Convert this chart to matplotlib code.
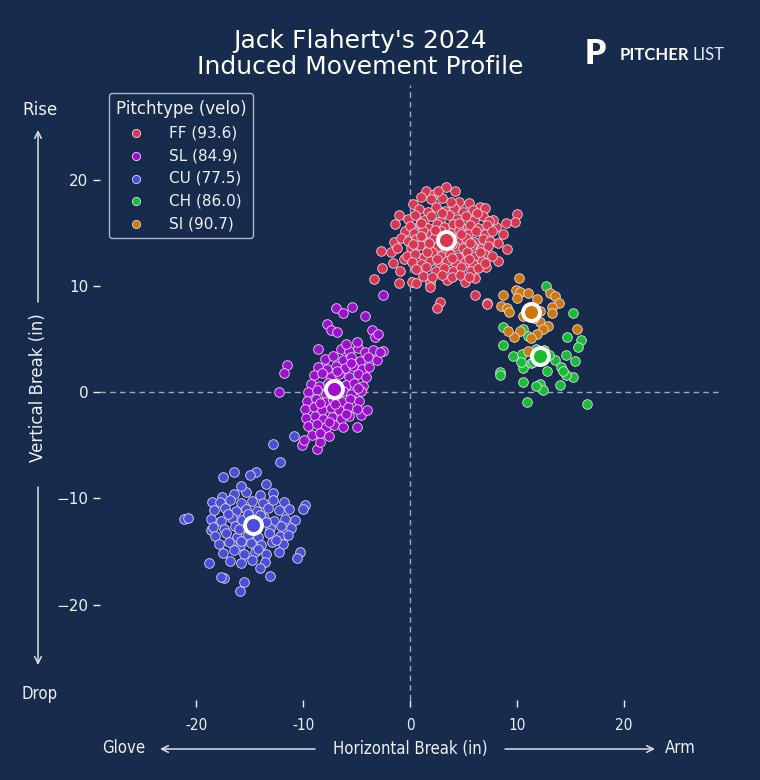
import numpy as np
import matplotlib
matplotlib.use("Agg")
import matplotlib.pyplot as plt

# colours
bg = "#172b4d"
txt = "#f0f0f0"

# pitch types, colours, mean velo
pitch_types = ["FF", "SL", "CU", "CH", "SI"]
pitch_colors = ["#d9384f", "#9c10d0", "#4a4fd9", "#16bf32", "#cc7a0c"]
pitch_velo = [93.6, 84.9, 77.5, 86.0, 90.7]

# mean movement (horizontal, vertical)
mean_h = [3.4, -7.1, -14.7, 12.2, 11.3]
mean_v = [14.4, 0.3, -12.5, 3.4, 7.6]

# individual pitches (horizontal break, vertical break)
ff_pts = [
    (3.4, 19.4), (1.5, 19.0), (2.2, 18.7), (3.0, 18.3), (0.3, 17.8), (4.6, 18.0), (5.5, 17.9),
    (6.5, 17.5), (7.0, 17.4), (10.0, 16.8), (9.8, 16.1), (9.0, 16.0), (8.7, 14.9), (9.1, 13.5),
    (7.1, 11.8), (-2.7, 13.3), (-2.6, 11.7), (-3.4, 10.7), (-1.0, 10.3), (0.2, 10.4), (0.6, 10.3),
    (1.9, 10.3), (1.9, 9.9), (2.8, 8.5), (2.5, 8.0), (6.1, 9.2), (7.2, 8.4), (6.1, 10.8),
    (5.1, 10.4), (3.5, 10.6), (-1.6, 12.2), (-1.8, 13.2), (-1.5, 14.2), (-1.0, 16.7), (-1.4, 15.9),
    (-0.5, 15.2), (-0.8, 14.6), (-1.2, 13.6), (-0.6, 12.6), (-0.9, 11.5), (8.2, 12.4), (8.0, 15.6),
    (7.8, 16.3), (1.0, 18.4), (2.6, 19.0), (4.2, 19.0),
    (0.8, 17.3), (1.7, 17.0), (2.4, 17.5), (3.3, 17.1), (4.1, 17.4), (5.0, 17.0), (5.9, 17.2),
    (3.8, 18.0), (2.0, 18.2),
    (-0.2, 16.4), (0.5, 16.7), (1.3, 16.3), (2.0, 16.6), (2.8, 16.2), (3.6, 16.7), (4.4, 16.4),
    (5.2, 16.6), (6.0, 16.3), (6.8, 16.6), (7.4, 16.2),
    (0.0, 15.7), (0.9, 15.9), (1.7, 15.5), (2.5, 15.9), (3.2, 15.6), (4.0, 15.9), (4.8, 15.6),
    (5.6, 15.8), (6.4, 15.5), (7.2, 15.8),
    (0.4, 15.0), (1.2, 15.2), (2.0, 14.9), (2.9, 15.2), (3.8, 15.0), (4.6, 15.3), (5.4, 14.9),
    (6.2, 15.2), (7.0, 14.9), (7.7, 15.2),
    (-0.2, 14.3), (0.6, 14.5), (1.4, 14.2), (2.2, 14.6), (4.4, 14.3), (5.2, 14.6), (6.0, 14.2),
    (6.8, 14.5), (7.5, 14.3), (8.2, 14.1),
    (0.1, 13.6), (0.9, 13.9), (1.8, 13.5), (2.6, 13.8), (3.4, 13.5), (4.2, 13.8), (5.0, 13.6),
    (5.8, 13.9), (6.6, 13.5), (7.3, 13.8),
    (-0.3, 12.9), (0.5, 13.1), (1.3, 12.8), (2.1, 13.2), (2.9, 12.9), (3.7, 13.1), (4.5, 12.8),
    (5.3, 13.2), (6.1, 12.9), (6.9, 13.1), (7.7, 12.9),
    (0.2, 12.3), (1.0, 12.1), (1.9, 12.4), (2.7, 12.2), (3.5, 12.4), (4.3, 12.1), (5.1, 12.3),
    (5.9, 12.1), (6.7, 12.4),
    (0.6, 11.6), (1.5, 11.8), (2.4, 11.5), (3.2, 11.7), (4.0, 11.5), (4.8, 11.8), (5.7, 11.5),
    (6.4, 11.7),
    (1.2, 11.0), (2.1, 10.9), (3.0, 11.1), (3.9, 10.9), (4.7, 11.1), (5.5, 10.9), (7.2, 8.3),
    (1.0, 16.0), (2.3, 15.3), (3.0, 14.2), (3.9, 14.0), (4.8, 14.9), (5.6, 14.1), (1.0, 14.8),
    (1.6, 13.2), (2.5, 12.6), (3.9, 12.7), (5.5, 12.6), (4.6, 16.0), (3.0, 16.9), (6.3, 16.9),
    (1.8, 14.1), (6.5, 13.2), (0.3, 14.0), (7.0, 12.2),
]

sl_pts = [
    (-2.5, 9.2), (-6.9, 8.0), (-5.4, 8.1), (-6.3, 7.5), (-4.2, 7.2), (-7.8, 6.5), (-7.4, 5.9),
    (-6.8, 5.7), (-3.6, 5.9), (-3.3, 5.2), (-2.5, 3.9), (-8.6, 4.1), (-11.5, 2.6), (-11.8, 1.8),
    (-12.3, 0.0), (-5.0, -3.3), (-10.1, -5.0), (-8.7, -5.3), (-8.4, -4.7), (-4.6, -2.1), (-4.0, -1.7),
    (-6.5, 4.1), (-5.7, 3.9), (-4.9, 4.2), (-4.2, 3.8), (-3.5, 4.0), (-6.0, 4.6), (-5.0, 4.8),
    (-8.0, 3.2), (-7.2, 3.4), (-6.3, 3.1), (-5.5, 3.3), (-4.7, 3.0), (-3.9, 3.3), (-3.1, 3.1),
    (-8.6, 2.4), (-7.8, 2.2), (-6.9, 2.5), (-6.1, 2.3), (-5.3, 2.5), (-4.5, 2.2), (-3.8, 2.4),
    (-9.0, 1.6), (-8.2, 1.8), (-7.4, 1.5), (-6.6, 1.7), (-5.7, 1.5), (-4.9, 1.7), (-4.1, 1.5),
    (-9.3, 0.8), (-8.5, 0.6), (-7.7, 0.9), (-6.0, 0.7), (-5.2, 0.9), (-4.4, 0.6),
    (-9.5, 0.0), (-8.7, 0.2), (-7.9, -0.1), (-6.3, 0.1), (-5.5, -0.1), (-4.6, 0.1),
    (-9.6, -0.8), (-8.8, -0.6), (-8.0, -0.9), (-7.2, -0.7), (-6.4, -0.9), (-5.6, -0.6), (-4.8, -0.8),
    (-9.8, -1.6), (-9.0, -1.4), (-8.2, -1.7), (-7.4, -1.5), (-6.6, -1.7), (-5.8, -1.4), (-5.0, -1.6),
    (-9.7, -2.4), (-8.9, -2.2), (-8.1, -2.5), (-7.3, -2.3), (-6.5, -2.5), (-5.7, -2.2),
    (-9.5, -3.2), (-8.7, -3.0), (-7.9, -3.3), (-7.1, -3.1), (-6.3, -3.3),
    (-9.2, -4.0), (-8.4, -3.8), (-7.6, -4.1), (-9.9, -4.5), (-3.0, 5.5), (-2.8, 3.8),
    (-7.0, -1.1), (-6.0, -2.0), (-8.4, -1.0), (-7.6, -2.8), (-5.5, 2.8), (-6.8, 2.0), (-4.9, 0.4),
]

cu_pts = [
    (-10.9, -4.1), (-12.8, -4.9), (-12.2, -6.6), (-16.5, -7.5), (-17.5, -8.0), (-14.4, -7.5),
    (-15.0, -7.8), (-21.1, -11.9), (-20.8, -11.8), (-9.8, -10.6), (-10.0, -11.0), (-10.3, -15.0),
    (-10.6, -15.6), (-13.1, -17.3), (-15.5, -17.9), (-15.9, -18.7), (-17.4, -17.5), (-17.7, -17.4),
    (-18.8, -16.1), (-18.6, -13.0), (-18.5, -10.3), (-17.6, -9.9),
    (-16.5, -9.6), (-15.3, -9.4), (-14.0, -9.7), (-12.8, -9.5), (-15.8, -8.8), (-13.5, -8.6),
    (-17.8, -10.3), (-16.8, -10.1), (-15.8, -10.4), (-14.8, -10.2), (-13.8, -10.4), (-12.8, -10.1),
    (-11.8, -10.3),
    (-18.3, -11.1), (-17.3, -10.9), (-16.3, -11.2), (-15.3, -11.0), (-14.3, -11.2), (-13.3, -10.9),
    (-12.3, -11.1), (-11.3, -11.0),
    (-18.6, -11.9), (-17.7, -12.1), (-16.7, -11.8), (-15.7, -12.0), (-13.7, -11.8), (-12.7, -12.1),
    (-11.7, -11.9), (-10.8, -12.0),
    (-18.4, -12.7), (-17.4, -12.9), (-16.4, -12.6), (-13.1, -12.8), (-12.1, -12.6), (-11.1, -12.8),
    (-18.2, -13.5), (-17.2, -13.3), (-16.2, -13.6), (-15.2, -13.4), (-14.2, -13.6), (-13.2, -13.3),
    (-12.2, -13.5), (-11.4, -13.4),
    (-17.9, -14.3), (-16.9, -14.1), (-15.9, -14.4), (-14.9, -14.2), (-13.9, -14.4), (-12.9, -14.1),
    (-11.9, -14.3),
    (-17.5, -15.1), (-16.5, -14.9), (-15.5, -15.2), (-14.5, -15.0), (-13.5, -15.2), (-12.3, -15.0),
    (-16.8, -15.9), (-15.8, -16.1), (-14.8, -15.8), (-13.6, -16.0), (-14.0, -16.6),
    (-15.2, -11.5), (-14.0, -11.6), (-16.0, -12.9), (-13.5, -12.2), (-15.8, -14.0), (-14.2, -14.8),
    (-12.5, -13.9), (-17.0, -11.5),
]

ch_pts = [
    (12.7, 10.0), (15.2, 7.5), (14.7, 5.2), (16.0, 4.9), (15.7, 4.3), (15.4, 3.0), (15.2, 1.5),
    (14.0, 0.7), (16.6, -1.1), (10.9, -0.9), (12.2, 0.8), (12.4, 0.2), (11.8, 0.6), (10.6, 1.0),
    (8.4, 1.9), (8.4, 1.6), (9.6, 3.4), (8.7, 4.5), (8.7, 6.2), (10.6, 6.0), (11.0, 5.3),
    (10.5, 3.6), (10.6, 2.3), (11.3, 2.8), (13.6, 3.1), (14.6, 3.5), (14.1, 2.4), (14.6, 1.6),
    (14.3, 2.0), (10.4, 2.9), (12.5, 4.0), (13.0, 3.5), (11.5, 2.9), (12.8, 2.0), (11.8, 4.1),
]

si_pts = [
    (10.2, 10.8), (8.7, 9.2), (9.9, 9.7), (10.3, 9.5), (11.0, 9.4), (8.5, 8.2), (9.1, 8.0),
    (9.3, 7.6), (10.0, 8.9), (11.9, 8.8), (13.1, 9.4), (13.6, 9.1), (13.9, 8.4), (13.3, 8.1),
    (12.2, 7.7), (13.3, 7.5), (12.2, 6.6), (12.9, 6.3), (12.4, 6.0), (11.9, 5.5), (11.3, 5.1),
    (10.3, 5.8), (9.7, 5.2), (9.2, 5.8), (15.6, 6.0), (11.0, 3.9), (10.6, 7.2), (11.6, 7.0),
]

all_pts = [ff_pts, sl_pts, cu_pts, ch_pts, si_pts]

fig = plt.figure(figsize=(7.6, 7.8), dpi=100, facecolor=bg)
ax = fig.add_axes([0.1316, 0.1026, 0.8158, 0.7885])
ax.set_facecolor(bg)

ax.axhline(0, color="#a0a8b8", lw=1, ls=(0, (4, 3)), zorder=1)
ax.axvline(0, color="#a0a8b8", lw=1, ls=(0, (4, 3)), zorder=1)

for pts, name, col, velo in zip(all_pts, pitch_types, pitch_colors, pitch_velo):
    h = [p[0] for p in pts]
    v = [p[1] for p in pts]
    ax.scatter(h, v, s=48, color=col, edgecolor="#e8d8f0", linewidth=0.6, zorder=2,
               label=f"{name} ({velo:.1f})")

for h, v, col in zip(mean_h, mean_v, pitch_colors):
    ax.scatter([h], [v], s=150, color=col, edgecolor="white", linewidth=2.8, zorder=4)

ax.set_xlim(-29, 29)
ax.set_ylim(-29, 29)
for s in ax.spines.values():
    s.set_visible(False)

ax.set_xticks([-20, -10, 0, 10, 20])
ax.set_xticklabels(["-20", "-10", "0", "10", "20"], fontstretch="condensed")
ax.set_yticks([-20, -10, 0, 10, 20])
ax.tick_params(colors=txt, labelsize=11, length=5, width=1)
ax.tick_params(axis="x", pad=8)

leg = ax.legend(title="Pitchtype (velo)", loc="upper left", bbox_to_anchor=(0.0145, 0.987),
                borderaxespad=0, facecolor=bg, edgecolor="#b0b6c2", labelcolor=txt,
                fontsize=11, title_fontsize=12, markerscale=0.85, borderpad=0.45,
                handletextpad=1.2, labelspacing=0.5, framealpha=1)
leg.get_title().set_color(txt)
leg.get_frame().set_linewidth(1)

# titles
fig.text(0.474, 0.948, "Jack Flaherty's 2024", ha="center", va="center", color="white", fontsize=18)
fig.text(0.474, 0.914, "Induced Movement Profile", ha="center", va="center", color="white", fontsize=18)

# logo
fig.text(0.769, 0.931, "P", ha="left", va="center", color="white", fontsize=24,
         fontweight="heavy", family="Lato")
fig.text(0.815, 0.929, "PITCHER", ha="left", va="center", color="white", fontsize=12,
         fontweight="bold", family="Lato")
fig.text(0.911, 0.929, "LIST", ha="left", va="center", color="#e6e6e6", fontsize=12,
         fontweight="normal", family="Lato")

# axis labels with arrows
fig.text(38 / 760, 392 / 780, "Vertical Break (in)", rotation=90, ha="center", va="center",
         color=txt, fontsize=12)
fig.text(40 / 760, 670 / 780, "Rise", ha="center", va="center", color=txt, fontsize=12)
fig.text(40 / 760, 86 / 780, "Drop", ha="center", va="center", color=txt, fontsize=12,
         fontstretch="condensed")
fig.text(410 / 760, 31 / 780, "Horizontal Break (in)", ha="center", va="center", color=txt,
         fontsize=12, fontstretch="condensed")
fig.text(124 / 760, 32 / 780, "Glove", ha="center", va="center", color=txt, fontsize=12,
         fontstretch="condensed")
fig.text(680 / 760, 32 / 780, "Arm", ha="center", va="center", color=txt, fontsize=12,
         fontstretch="condensed")

arrow = dict(arrowstyle="->", color="#e0e0e0", lw=1.1, shrinkA=0, shrinkB=0)
for start, end in [((38, 478), (38, 650)), ((38, 293), (38, 115)),
                   ((315, 31), (160, 31)), ((505, 31), (655, 31))]:
    fig.add_artist(matplotlib.patches.FancyArrowPatch(
        (start[0] / 760, start[1] / 780), (end[0] / 760, end[1] / 780),
        transform=fig.transFigure, mutation_scale=12, **arrow))

fig.savefig("out.png", dpi=100, facecolor=bg)
